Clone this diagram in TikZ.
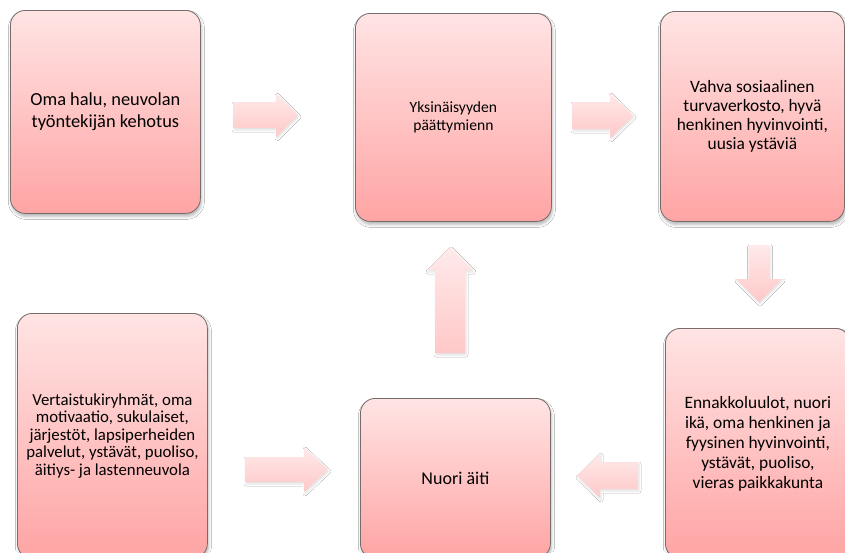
\documentclass[tikz,border=0pt]{standalone}
\usepackage{fontspec}
\setmainfont{Carlito}
\usetikzlibrary{shadows.blur}
\definecolor{boxtop}{RGB}{255,228,228}
\definecolor{boxbot}{RGB}{255,164,164}
\definecolor{boxline}{RGB}{118,108,108}
\definecolor{arrtop}{RGB}{255,234,234}
\definecolor{arrbot}{RGB}{255,200,200}
\begin{document}
\begin{tikzpicture}[x=1pt,y=-1pt,
  card/.style={draw=boxline, line width=0.8pt, rounded corners=15pt,
    top color=boxtop, bottom color=boxbot, align=center, inner sep=0pt,
    anchor=north west,
    blur shadow={shadow xshift=1pt, shadow yshift=-3pt,
      shadow blur radius=3pt, shadow opacity=30}},
  blockarrow/.style={top color=arrtop, bottom color=arrbot,
    blur shadow={shadow xshift=1pt, shadow yshift=-2pt,
      shadow blur radius=2pt, shadow opacity=12}}]
\clip (0,0) rectangle (845,552);
\fill[white] (0,0) rectangle (845,552);

% boxes
\node[card, minimum width=190pt, minimum height=203pt,
  font={\fontsize{18.4}{21.7}\selectfont}] (b1) at (10,10)
  {Oma halu, neuvolan\\työntekijän kehotus};
\node[card, minimum width=196pt, minimum height=208pt,
  font={\fontsize{15.6}{18}\selectfont}] (b2) at (355,13)
  {Yksinäisyyden\\päättymienn};
\node[card, minimum width=184pt, minimum height=210pt,
  font={\fontsize{17.4}{19}\selectfont}] (b3) at (660,11)
  {Vahva sosiaalinen\\turvaverkosto, hyvä\\henkinen hyvinvointi,\\uusia ystäviä};
\node[card, minimum width=190pt, minimum height=245pt,
  font={\fontsize{16.8}{17.5}\selectfont}] (b4) at (17,313)
  {Vertaistukiryhmät, oma\\motivaatio, sukulaiset,\\järjestöt, lapsiperheiden\\palvelut, ystävät, puoliso,\\äitiys- ja lastenneuvola};
\node[card, minimum width=190pt, minimum height=160pt,
  font={\fontsize{18}{21}\selectfont}] (b5) at (360,398)
  {Nuori äiti};
\node[card, minimum width=185pt, minimum height=230pt,
  font={\fontsize{17.4}{20}\selectfont}] (b6) at (665,328)
  {Ennakkoluulot, nuori\\ikä, oma henkinen ja\\fyysinen hyvinvointi,\\ystävät, puoliso,\\vieras paikkakunta};

% block arrows between the boxes
\path[blockarrow] (233,102) -- (276,102) -- (276,93) -- (298,115)
  -- (276,137) -- (276,128) -- (233,128) -- cycle;
\path[blockarrow] (572,102) -- (610,102) -- (610,93) -- (633,115.5)
  -- (610,138) -- (610,129) -- (572,129) -- cycle;
\path[blockarrow] (748.5,245) -- (769.5,245) -- (769.5,279) -- (782,279)
  -- (759,302) -- (736,279) -- (748.5,279) -- cycle;
\path[blockarrow] (638,462) -- (600,462) -- (600,453) -- (577,475.5)
  -- (600,498) -- (600,489) -- (638,489) -- cycle;
\path[blockarrow] (435,353) -- (435,270) -- (427,270) -- (450,247)
  -- (473,270) -- (465,270) -- (465,353) -- cycle;
\path[blockarrow] (245,457) -- (304,457) -- (304,447) -- (328,469.5)
  -- (304,492) -- (304,482) -- (245,482) -- cycle;
\end{tikzpicture}
\end{document}
